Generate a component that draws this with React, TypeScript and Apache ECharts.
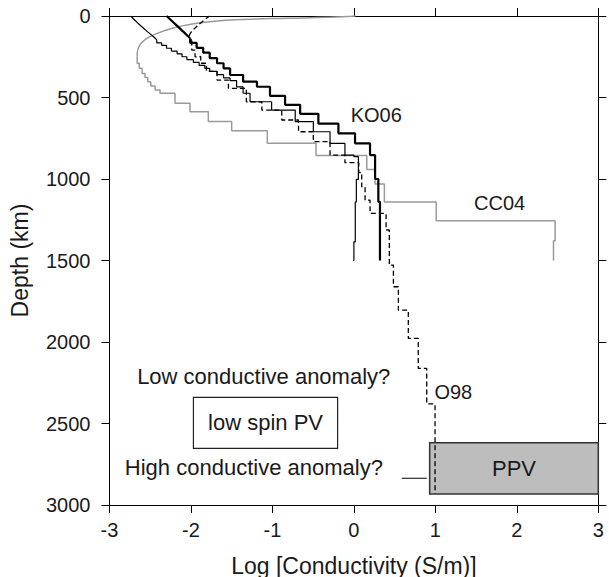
import React, { useEffect, useRef } from "react";
import * as echarts from "echarts";

// Axis ranges and ticks
const xMin = -3;
const xMax = 3;
const xInterval = 1;
const depthMin = 0;
const depthMax = 3000;
const depthInterval = 500;

// CC04 (gray): smooth top part then stepped profile  [logSigma, depthKm]
const cc04Smooth = [
  [0.02, 0], [-0.3, 8], [-0.8, 14], [-1.3, 20], [-1.77, 35], [-2.05, 55],
  [-2.25, 78], [-2.42, 108], [-2.55, 140], [-2.63, 180], [-2.66, 230], [-2.66, 250],
];
const cc04Steps = [
  [-2.66, 250], [-2.634, 290], [-2.6, 320], [-2.564, 352], [-2.53, 378], [-2.494, 403],
  [-2.44, 430], [-2.38, 454], [-2.196, 474], [-2.012, 536], [-1.787, 587], [-1.5, 648],
  [-1.063, 704], [-0.465, 781], [0.158, 856], [0.26, 941], [0.374, 1031], [1.01, 1141],
  [2.47, 1256], [2.45, 1379], [2.45, 1500],
];

// KO06 thin black
const ko06ThinSmooth = [
  [-2.74, 0], [-2.66, 40], [-2.56, 85], [-2.46, 127], [-2.42, 147],
];
const ko06ThinSteps = [
  [-2.42, 147], [-2.36, 165], [-2.3, 180], [-2.24, 198], [-2.17, 215], [-2.11, 232],
  [-2.05, 250], [-1.97, 268], [-1.9, 285], [-1.83, 303], [-1.77, 321], [-1.68, 340],
  [-1.6, 360], [-1.52, 380], [-1.44, 397], [-1.36, 435], [-1.275, 474], [-1.01, 526],
  [-0.72, 577], [-0.498, 648], [-0.293, 710], [-0.11, 781], [0.0, 853], [0.055, 863],
  [0.03, 1002], [0.017, 1141], [0.0, 1386], [-0.01, 1500],
];

// KO06 bold black
const ko06BoldSmooth = [
  [-2.3, 0], [-2.15, 70], [-2.01, 137],
];
const ko06BoldSteps = [
  [-2.01, 137], [-1.93, 165], [-1.85, 195], [-1.77, 225], [-1.68, 258], [-1.6, 290],
  [-1.52, 321], [-1.36, 362], [-1.19, 403], [-1.03, 434], [-0.845, 490], [-0.66, 545],
  [-0.436, 600], [-0.19, 660], [0.014, 720], [0.198, 781], [0.26, 853], [0.3, 1000],
  [0.32, 1140], [0.32, 1500],
];

// O98 dashed
const o98Smooth = [
  [-1.77, 0], [-1.85, 30], [-1.93, 65], [-2.0, 100], [-2.02, 125], [-1.99, 150],
];
const o98Steps = [
  [-1.99, 150], [-1.95, 209], [-1.88, 250], [-1.81, 290], [-1.68, 340], [-1.54, 393],
  [-1.32, 444], [-1.13, 526], [-0.886, 577], [-0.68, 638], [-0.498, 710], [-0.293, 771],
  [-0.11, 853], [0.06, 900], [0.096, 960], [0.137, 1048], [0.198, 1130], [0.395, 1211],
  [0.435, 1313], [0.485, 1528], [0.546, 1661], [0.668, 1804], [0.79, 1978], [0.894, 2162],
  [0.996, 2380], [0.996, 2930],
];

// short solid marker line near "High conductive anomaly?"
const markerLine = [[0.588, 2836], [0.894, 2836]];

// boxes: [x0, d0, x1, d1]
const ppvBox = [0.93, 2618, 3.0, 2933];
const ppvLabel = "PPV";
const lowSpinBox = [-1.97, 2340, -0.2, 2652];
const lowSpinLabel = "low spin PV";

// curve labels (left-anchored) and centred notes
const curveLabels = [
  { name: "KO06", value: [-0.039, 607] },
  { name: "CC04", value: [1.475, 1149] },
  { name: "O98", value: [0.988, 2305] },
];
const notes = [
  { name: "Low conductive anomaly?", value: [-1.107, 2213] },
  { name: "High conductive anomaly?", value: [-1.228, 2769] },
];

const FONT = "'Liberation Sans', Arial, Helvetica, sans-serif";

export default function App() {
  const ref = useRef<HTMLDivElement>(null);
  useEffect(() => {
    const chart = echarts.init(ref.current!, null, { renderer: "svg" });
    const axisLine = { show: true, onZero: false, lineStyle: { color: "#000", width: 1 } };
    const axisTick = { show: true, inside: false, length: 8, lineStyle: { color: "#000", width: 1 } };
    const grey = "#9a9a9a";
    const txt = "#1a1a1a";
    const option: any = {
      animation: false,
      backgroundColor: "#fff",
      grid: { left: 109.5, right: 10.7, top: 16, bottom: 72, containLabel: false, outerBoundsMode: "none" },
      xAxis: [
        {
          type: "value", min: xMin, max: xMax, interval: xInterval, position: "bottom",
          axisLine, axisTick, splitLine: { show: false },
          axisLabel: { fontFamily: FONT, fontSize: 20, color: txt, margin: 15,
            formatter: (v: number) => String(v) },
          name: "Log [Conductivity (S/m)]", nameLocation: "middle", nameGap: 49,
          nameTextStyle: { fontFamily: FONT, fontSize: 23, color: txt },
        },
        {
          type: "value", min: xMin, max: xMax, interval: xInterval, position: "top",
          axisLine, axisTick, splitLine: { show: false }, axisLabel: { show: false },
        },
      ],
      yAxis: [
        {
          type: "value", min: depthMin, max: depthMax, interval: depthInterval, inverse: true,
          position: "left", axisLine, axisTick, splitLine: { show: false },
          axisLabel: { fontFamily: FONT, fontSize: 20, color: txt, margin: 19,
            formatter: (v: number) => String(v) },
          name: "Depth (km)", nameLocation: "middle", nameGap: 78, nameRotate: 90,
          nameTextStyle: { fontFamily: FONT, fontSize: 23, color: txt },
        },
        {
          type: "value", min: depthMin, max: depthMax, interval: depthInterval, inverse: true,
          position: "right", axisLine, axisTick, splitLine: { show: false }, axisLabel: { show: false },
        },
      ],
      series: [
        {
          type: "line", data: markerLine, showSymbol: false, symbol: "none",
          lineStyle: { color: "#000", width: 1.2 }, z: 1,
          markArea: {
            silent: true,
            data: [
              [
                { xAxis: ppvBox[0], yAxis: ppvBox[1], name: ppvLabel,
                  itemStyle: { color: "#bdbdbd", borderColor: "#333", borderWidth: 1.5 } },
                { xAxis: ppvBox[2], yAxis: ppvBox[3] },
              ],
              [
                { xAxis: lowSpinBox[0], yAxis: lowSpinBox[1], name: lowSpinLabel,
                  itemStyle: { color: "#fff", borderColor: "#222", borderWidth: 1.2 } },
                { xAxis: lowSpinBox[2], yAxis: lowSpinBox[3] },
              ],
            ],
            label: { show: true, position: "inside", fontFamily: FONT, fontSize: 22, color: txt },
          },
        },
        { type: "line", data: cc04Smooth, showSymbol: false, symbol: "none", smooth: true,
          lineStyle: { color: grey, width: 1.5 }, z: 2 },
        { type: "line", data: cc04Steps, showSymbol: false, symbol: "none", step: "start",
          lineStyle: { color: grey, width: 1.5 }, z: 2 },
        { type: "line", data: o98Smooth, showSymbol: false, symbol: "none", smooth: true,
          lineStyle: { color: "#000", width: 1.3, type: [5, 3] }, z: 3 },
        { type: "line", data: o98Steps, showSymbol: false, symbol: "none", step: "start",
          lineStyle: { color: "#000", width: 1.3, type: [5, 3] }, z: 3 },
        { type: "line", data: ko06ThinSmooth, showSymbol: false, symbol: "none", smooth: true,
          lineStyle: { color: "#000", width: 1.2 }, z: 4 },
        { type: "line", data: ko06ThinSteps, showSymbol: false, symbol: "none", step: "start",
          lineStyle: { color: "#000", width: 1.2 }, z: 4 },
        { type: "line", data: ko06BoldSmooth, showSymbol: false, symbol: "none", smooth: true,
          lineStyle: { color: "#000", width: 2.2 }, z: 5 },
        { type: "line", data: ko06BoldSteps, showSymbol: false, symbol: "none", step: "start",
          lineStyle: { color: "#000", width: 2.2 }, z: 5 },
        {
          type: "scatter", data: curveLabels, symbolSize: 0, z: 6, silent: true,
          itemStyle: { opacity: 1 },
          label: { show: true, position: "right", distance: 0, formatter: "{b}",
            fontFamily: FONT, fontSize: 20, color: txt },
        },
        {
          type: "scatter", data: notes, symbolSize: 0, z: 6, silent: true,
          itemStyle: { opacity: 1 },
          label: { show: true, position: "inside", formatter: "{b}",
            fontFamily: FONT, fontSize: 22, color: txt },
        },
      ],
    };
    chart.setOption(option);
    return () => chart.dispose();
  }, []);
  return (
    <div
      ref={ref}
      style={{ position: "fixed", left: 0, top: 0, width: 609, height: 577, background: "#fff" }}
    />
  );
}
